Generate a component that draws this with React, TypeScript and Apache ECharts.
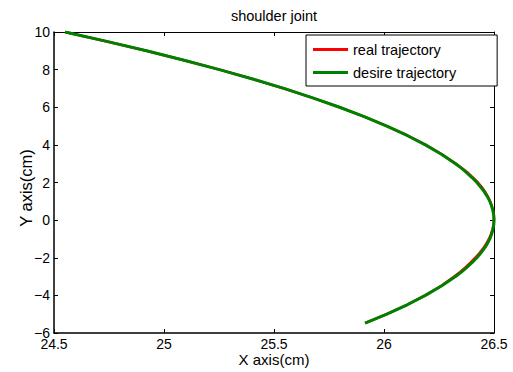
import React, { useEffect, useRef } from "react";
import * as echarts from "echarts";

const titleText = "shoulder joint";
const xName = "X axis(cm)";
const yName = "Y axis(cm)";
const seriesNames = ["real trajectory", "desire trajectory"];

const xTicks = { min: 24.5, max: 26.5, interval: 0.5 };
const yTicks = { min: -6, max: 10, interval: 2 };

// real trajectory [x, y]
const realTrajectory: [number, number][] = [
  [24.55, 10], [24.74, 9.5], [24.92, 9.0], [25.091, 8.5], [25.252, 8.0],
  [25.403, 7.5], [25.545, 7.0], [25.676, 6.5], [25.798, 6.0], [25.91, 5.5],
  [26.013, 5.0], [26.106, 4.5], [26.19, 4.0], [26.263, 3.5], [26.327, 3.0],
  [26.356, 2.75], [26.383, 2.5], [26.406, 2.25], [26.427, 2.0], [26.445, 1.75],
  [26.46, 1.5], [26.472, 1.25], [26.482, 1.0], [26.49, 0.75], [26.496, 0.5],
  [26.499, 0.25], [26.5, 0.0], [26.498, -0.25], [26.493, -0.5], [26.486, -0.75],
  [26.477, -1.0], [26.465, -1.25], [26.451, -1.5], [26.434, -1.75], [26.415, -2.0],
  [26.394, -2.25], [26.371, -2.5], [26.346, -2.75], [26.319, -3.0], [26.259, -3.5],
  [26.188, -4.0], [26.105, -4.5], [26.012, -5.0], [25.914, -5.48],
];

// desire trajectory [x, y]
const desireTrajectory: [number, number][] = [
  [24.55, 10], [24.74, 9.5], [24.92, 9.0], [25.091, 8.5], [25.252, 8.0],
  [25.403, 7.5], [25.545, 7.0], [25.676, 6.5], [25.798, 6.0], [25.91, 5.5],
  [26.013, 5.0], [26.105, 4.5], [26.188, 4.0], [26.261, 3.5], [26.325, 3.0],
  [26.353, 2.75], [26.378, 2.5], [26.401, 2.25], [26.422, 2.0], [26.44, 1.75],
  [26.456, 1.5], [26.47, 1.25], [26.481, 1.0], [26.489, 0.75], [26.495, 0.5],
  [26.499, 0.25], [26.5, 0.0], [26.499, -0.25], [26.495, -0.5], [26.489, -0.75],
  [26.481, -1.0], [26.47, -1.25], [26.456, -1.5], [26.44, -1.75], [26.422, -2.0],
  [26.401, -2.25], [26.378, -2.5], [26.353, -2.75], [26.325, -3.0], [26.261, -3.5],
  [26.188, -4.0], [26.105, -4.5], [26.013, -5.0], [25.914, -5.48],
];

const FONT = "'Liberation Sans', Arial, Helvetica, sans-serif";

const fmt = (v: number) => String(v).replace("-", "\u2212");

export default function App() {
  const ref = useRef<HTMLDivElement>(null);
  useEffect(() => {
    if (!ref.current) return;
    const chart = echarts.init(ref.current, undefined, { renderer: "svg" });
    const axisLineStyle = (w: number) => ({ show: true, onZero: false, lineStyle: { color: "#000", width: w } });
    const tick = { show: true, inside: true, length: 4, lineStyle: { color: "#000", width: 1 } };
    chart.setOption({
      animation: false,
      backgroundColor: "#fff",
      textStyle: { fontFamily: FONT },
      title: {
        text: titleText,
        left: 274,
        top: 8,
        padding: 0,
        textAlign: "center",
        textStyle: { fontFamily: FONT, fontSize: 14.5, fontWeight: "normal", color: "#000" },
      },
      legend: {
        orient: "vertical",
        left: 306,
        top: 35,
        padding: [7, 41, 6, 7],
        itemGap: 8,
        itemWidth: 35,
        itemHeight: 3,
        icon: "rect",
        backgroundColor: "#fff",
        borderColor: "#000",
        borderWidth: 1,
        borderRadius: 0,
        textStyle: { fontFamily: FONT, fontSize: 14.5, color: "#000", padding: [0, 0, 0, 0] },
        data: seriesNames,
      },
      grid: { left: 54, top: 32, right: 19, bottom: 39, containLabel: false },
      xAxis: [
        {
          type: "value",
          position: "bottom",
          min: xTicks.min,
          max: xTicks.max,
          interval: xTicks.interval,
          name: xName,
          nameLocation: "middle",
          nameGap: 19,
          nameMoveOverlap: false,
          nameTextStyle: { fontFamily: FONT, fontSize: 15, color: "#000" },
          axisLine: axisLineStyle(1.5),
          axisTick: tick,
          axisLabel: { color: "#000", fontFamily: FONT, fontSize: 14, margin: 4, formatter: fmt },
          splitLine: { show: false },
        },
        {
          type: "value",
          position: "top",
          min: xTicks.min,
          max: xTicks.max,
          interval: xTicks.interval,
          axisLine: axisLineStyle(1),
          axisTick: tick,
          axisLabel: { show: false },
          splitLine: { show: false },
        },
      ],
      yAxis: [
        {
          type: "value",
          position: "left",
          min: yTicks.min,
          max: yTicks.max,
          interval: yTicks.interval,
          name: yName,
          nameLocation: "middle",
          nameGap: 20,
          nameRotate: 90,
          nameMoveOverlap: false,
          nameTextStyle: { fontFamily: FONT, fontSize: 16.5, color: "#000", padding: [0, 11, 0, 0] },
          axisLine: axisLineStyle(1.5),
          axisTick: tick,
          axisLabel: { color: "#000", fontFamily: FONT, fontSize: 14, margin: 4, formatter: fmt },
          splitLine: { show: false },
        },
        {
          type: "value",
          position: "right",
          min: yTicks.min,
          max: yTicks.max,
          interval: yTicks.interval,
          axisLine: axisLineStyle(1),
          axisTick: tick,
          axisLabel: { show: false },
          splitLine: { show: false },
        },
      ],
      series: [
        {
          name: seriesNames[0],
          type: "line",
          xAxisIndex: 0,
          yAxisIndex: 0,
          data: realTrajectory,
          showSymbol: false,
          symbol: "none",
          color: "#ff0000",
          lineStyle: { color: "#ff0000", width: 2.5, join: "round" },
          z: 2,
        },
        {
          name: seriesNames[1],
          type: "line",
          xAxisIndex: 0,
          yAxisIndex: 0,
          data: desireTrajectory,
          showSymbol: false,
          symbol: "none",
          color: "#008000",
          lineStyle: { color: "#008000", width: 3, join: "round" },
          z: 3,
        },
      ],
    });
    return () => chart.dispose();
  }, []);
  return (
    <div
      ref={ref}
      style={{ position: "fixed", left: 0, top: 0, width: 513, height: 372, background: "#fff" }}
    />
  );
}
